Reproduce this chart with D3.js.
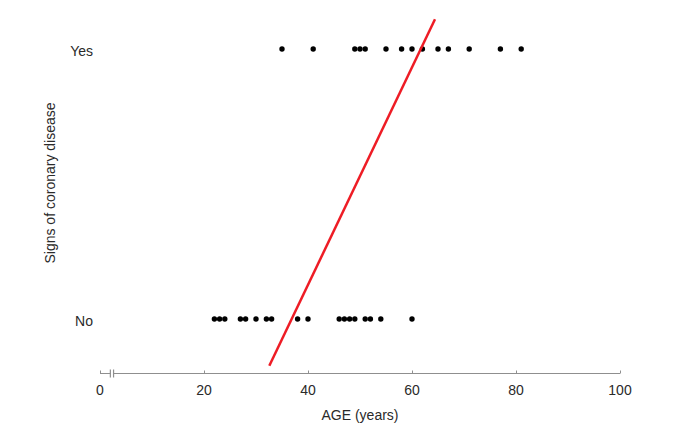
<!DOCTYPE html>
<html><head><meta charset="utf-8">
<script src="https://cdn.jsdelivr.net/npm/d3@7"></script>
<style>body{margin:0;background:#fff}svg{display:block;font-family:"Liberation Sans",Arial,sans-serif}</style>
</head><body><svg id="c" width="696" height="446"></svg>
<script>
const noAges = [22,23,24,27,28,30,32,33,38,40,46,47,48,49,51,52,54,60];
const yesAges = [35,41,49,50,51,55,58,60,62,65,67,71,77,81];
const yCategories = ["No","Yes"];
const xTicks = [0,20,40,60,80,100];
const fitAges = [32.56, 64.42];
const fitValues = [-0.173, 1.110];

const svg = d3.select("#c");
const x = d3.scaleLinear().domain([0,100]).range([100,620]);
const y = d3.scaleLinear().domain([0,1]).range([319,49]);
const axisY = 373.5;
const grey = "#8f8f8f";

// x axis
const ax = svg.append("g").attr("transform",`translate(0,${axisY})`)
  .call(d3.axisTop(x).tickValues(xTicks).tickSize(3).tickFormat(""));
ax.select(".domain").attr("stroke",grey).attr("stroke-width",1.2).attr("d",`M${x(0)},0H${x(100)}`);
ax.selectAll(".tick line").attr("stroke",grey);
svg.append("g").selectAll("text").data(xTicks).join("text")
  .attr("x",d=>x(d)).attr("y",395).attr("text-anchor","middle")
  .attr("font-size",14).attr("fill","#2a2a2a").text(d=>d);
// axis break
const bx = x(2.3);
svg.append("rect").attr("x",bx-1.2).attr("y",axisY-1).attr("width",2.4).attr("height",2).attr("fill","#fff");
[bx-1.6,bx+1.6].forEach(v=>svg.append("line").attr("x1",v).attr("x2",v)
  .attr("y1",axisY-4).attr("y2",axisY+4).attr("stroke",grey).attr("stroke-width",1.2));

svg.append("text").attr("x",(x(0)+x(100))/2).attr("y",420).attr("text-anchor","middle")
  .attr("font-size",14).attr("fill","#2a2a2a").text("AGE (years)");

// y labels
svg.append("g").selectAll("text").data(yCategories).join("text")
  .attr("x",93).attr("y",(d,i)=>y(i)+2).attr("dy","0.35em").attr("text-anchor","end")
  .attr("font-size",14).attr("fill","#2a2a2a").text(d=>d);
svg.append("text").attr("transform",`translate(55,${(y(0)+y(1))/2 - 1}) rotate(-90)`)
  .attr("text-anchor","middle").attr("font-size",14).attr("fill","#2a2a2a")
  .text("Signs of coronary disease");

// dots
svg.append("g").selectAll("circle").data(noAges).join("circle")
  .attr("cx",d=>x(d)).attr("cy",y(0)).attr("r",2.7).attr("fill","#000");
svg.append("g").selectAll("circle").data(yesAges).join("circle")
  .attr("cx",d=>x(d)).attr("cy",y(1)).attr("r",2.7).attr("fill","#000");

// fit line
const fit = fitAges.map((a,i)=>[a,fitValues[i]]);
svg.append("path").datum(fit)
  .attr("d",d3.line().x(d=>x(d[0])).y(d=>y(d[1])))
  .attr("stroke","#ee1c25").attr("stroke-width",2.5).attr("fill","none");
</script></body></html>
